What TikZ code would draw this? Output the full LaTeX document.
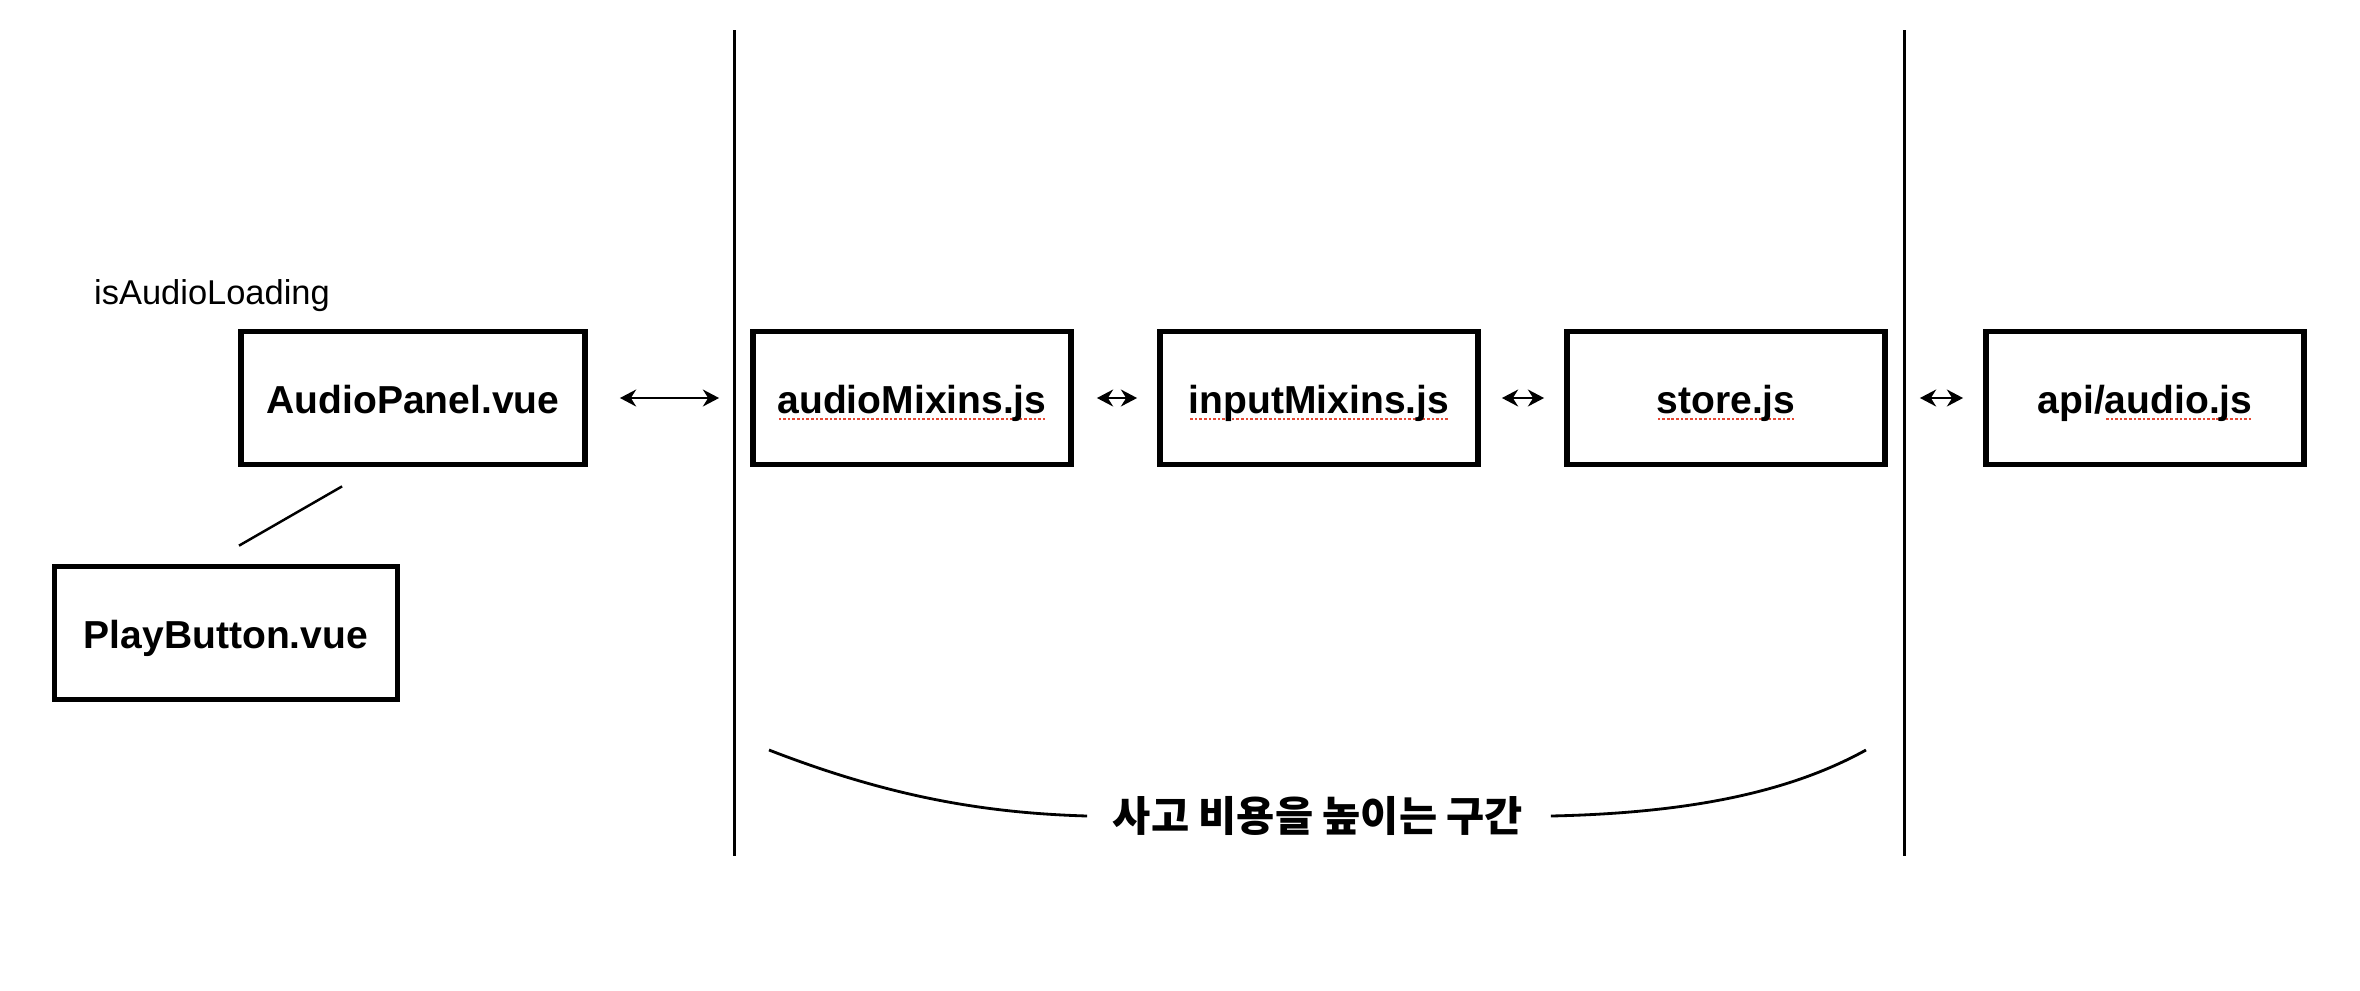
\documentclass[tikz,border=0pt]{standalone}
\usepackage{fontspec}
\setmainfont{Liberation Sans}
\newfontfamily\krfont{Noto Sans CJK KR}
\usetikzlibrary{arrows.meta}
\definecolor{spellred}{RGB}{232,72,52}
\newcommand{\spellmark}[1]{\setbox0=\hbox{#1}\rlap{\raisebox{-1.8pt}{\color{spellred}\hbox to \wd0{\xleaders\hbox to 1.3pt{\hss\rule{0.75pt}{0.75pt}\hss}\hfil}}}\box0}

\begin{document}
\begin{tikzpicture}[x=0.01cm,y=-0.01cm,
	filebox/.style={draw,line width=1.6pt,minimum width=3.18cm,minimum height=1.33cm,inner sep=0pt,
		font=\fontsize{11.1}{13}\selectfont\bfseries,text height=11pt,text depth=2pt},
	biarrow/.style={line width=0.7pt,{Stealth[length=4.6pt,width=4.8pt]}-{Stealth[length=4.6pt,width=4.8pt]}},
	divider/.style={line width=0.85pt},
	bracket/.style={line width=0.8pt}]
	\useasboundingbox (0,0) rectangle (2360,990);
	\node[font=\fontsize{9.8}{12}\selectfont] (flag) at (212,296) {isAudioLoading};
	\node[filebox,minimum width=3.44cm] (panel) at (413,398) {AudioPanel.vue};
	\node[filebox,minimum width=3.43cm] (play) at (226,633) {PlayButton.vue};
	\node[filebox] (audio) at (912,398) {\spellmark{audioMixins.js}};
	\node[filebox] (input) at (1319,398) {\spellmark{inputMixins.js}};
	\node[filebox] (store) at (1726,398) {\spellmark{store.js}};
	\node[filebox] (api) at (2145,398) {api/\spellmark{audio.js}};
	\node[font={\krfont\bfseries\fontsize{11.8}{14}\selectfont},inner sep=0pt] (cost) at (1318,816) {사고 비용을 높이는 구간};
	\draw[divider] (734,30) -- (734,856);
	\draw[divider] (1904,30) -- (1904,856);
	\draw[biarrow,shorten <=0.32cm,shorten >=0.31cm] (panel) -- (audio);
	\draw[biarrow,shorten <=0.23cm,shorten >=0.2cm] (audio) -- (input);
	\draw[biarrow,shorten <=0.21cm,shorten >=0.2cm] (input) -- (store);
	\draw[biarrow,shorten <=0.32cm,shorten >=0.2cm] (store) -- (api);
	\path (panel.south west) ++(104,19) coordinate (panelTail);
	\path (play.north) ++(13,-18) coordinate (playTail);
	\draw[line width=0.7pt] (panelTail) -- (playTail);
	\coordinate (braceL) at (769,750);
	\coordinate (braceR) at (1866,750);
	\draw[bracket] (braceL) .. controls (890,797) and (985,813) .. ([xshift=-0.25cm]cost.west);
	\draw[bracket] ([xshift=0.27cm]cost.east) .. controls (1690,813) and (1790,792) .. (braceR);
\end{tikzpicture}
\end{document}
